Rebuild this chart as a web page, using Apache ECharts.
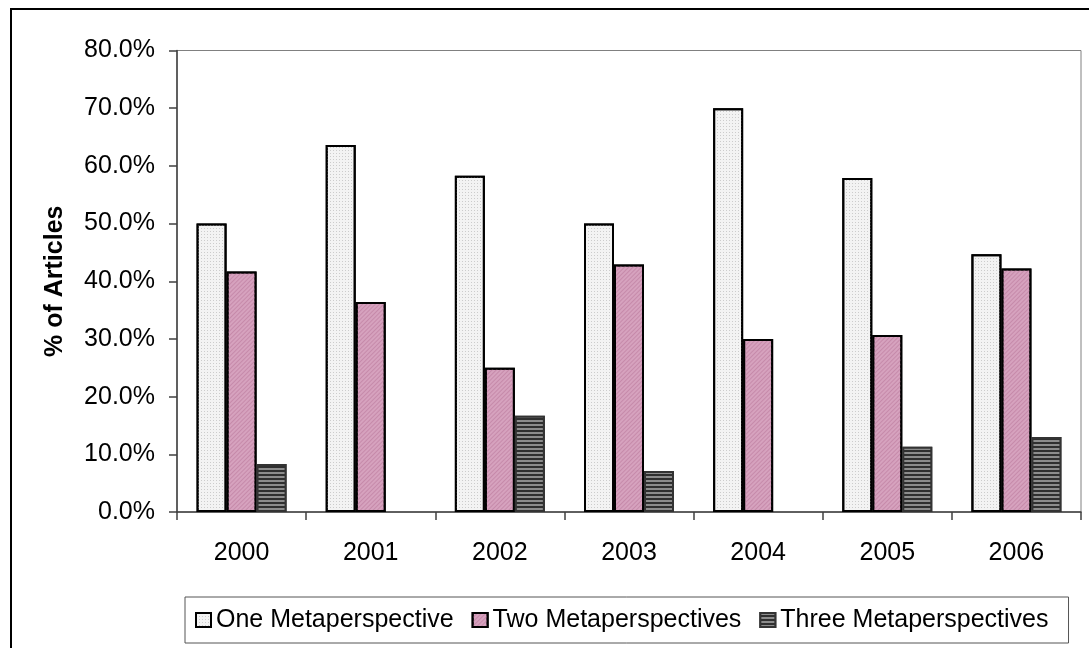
<!DOCTYPE html>
<html>
<head>
<meta charset="utf-8">
<script src="https://cdn.jsdelivr.net/npm/echarts@6/dist/echarts.min.js"></script>
<style>
  html, body { margin: 0; padding: 0; background: #fff; }
  #chart { width: 1089px; height: 648px; }
</style>
</head>
<body>
<div id="chart"></div>
<script>
// Share of articles by number of metaperspectives, per year (percent)
const years = ['2000', '2001', '2002', '2003', '2004', '2005', '2006'];
const oneMeta   = [50.0, 63.6, 58.3, 50.0, 70.0, 57.9, 44.7];
const twoMeta   = [41.7, 36.4, 25.0, 42.9, 30.0, 30.7, 42.2];
const threeMeta = [8.3, 0, 16.7, 7.1, 0, 11.3, 13.0];
const seriesNames = ['One Metaperspective', 'Two Metaperspectives', 'Three Metaperspectives'];

const FONT = '"Liberation Sans", Arial, sans-serif';

const chart = echarts.init(document.getElementById('chart'), null, { renderer: 'canvas' });

const barBase = { type: 'bar', barWidth: 30, barGap: '0%' };

// zero-height bars get no outline so they leave no mark on the axis
const withZeroBars = arr => arr.map(v => (v === 0 ? { value: v, itemStyle: { borderWidth: 0 } } : v));

chart.setOption({
  animation: false,
  backgroundColor: '#fff',
  textStyle: { fontFamily: FONT },
  graphic: [{
    type: 'rect',
    shape: { x: 11, y: 9, width: 1200, height: 800 },
    style: { fill: 'none', stroke: '#000', lineWidth: 2 },
    silent: true
  }],
  grid: {
    left: 177, right: 8, top: 50.5, bottom: 136,
    show: true, borderColor: '#808080', borderWidth: 1
  },
  legend: {
    left: 185, top: 597,
    padding: [9, 20, 9, 10],
    itemGap: 18,
    icon: 'rect',
    itemWidth: 15, itemHeight: 14,
    borderColor: '#555', borderWidth: 1,
    textStyle: { fontSize: 25, color: '#000', fontFamily: FONT, lineHeight: 28 },
    data: seriesNames
  },
  xAxis: {
    type: 'category',
    data: years,
    axisLine: { lineStyle: { color: '#404040', width: 1.5 } },
    axisTick: { show: true, length: 8, lineStyle: { color: '#404040', width: 1.5 } },
    axisLabel: { fontSize: 25, color: '#000', margin: 29, fontFamily: FONT },
    splitLine: { show: false }
  },
  yAxis: {
    type: 'value',
    min: 0, max: 80, interval: 10,
    name: '% of Articles',
    nameLocation: 'middle',
    nameRotate: 90,
    nameGap: 109,
    nameTextStyle: { fontSize: 25, fontWeight: 'bold', color: '#000', fontFamily: FONT },
    axisLine: { show: true, lineStyle: { color: '#404040', width: 1.5 } },
    axisTick: { show: true, length: 8, lineStyle: { color: '#404040', width: 1.5 } },
    axisLabel: {
      fontSize: 25, color: '#000', margin: 22, fontFamily: FONT,
      formatter: v => v.toFixed(1) + '%'
    },
    splitLine: { show: false }
  },
  series: [
    Object.assign({}, barBase, {
      name: seriesNames[0],
      data: withZeroBars(oneMeta),
      itemStyle: {
        color: '#f3f3f3', borderColor: '#000', borderWidth: 2,
        decal: { symbol: 'rect', symbolSize: 1, dashArrayX: [1, 2], dashArrayY: [1, 2], color: '#cccccc' }
      }
    }),
    Object.assign({}, barBase, {
      name: seriesNames[1],
      data: withZeroBars(twoMeta),
      itemStyle: {
        color: '#d6a2be', borderColor: '#000', borderWidth: 2,
        decal: { symbol: 'rect', symbolSize: 1, dashArrayX: [1, 0], dashArrayY: [1, 2], rotation: -Math.PI / 4, color: '#c68aaa' }
      }
    }),
    Object.assign({}, barBase, {
      name: seriesNames[2],
      data: withZeroBars(threeMeta),
      itemStyle: {
        color: '#2f2f2f', borderColor: '#333', borderWidth: 2,
        decal: { symbol: 'rect', symbolSize: 1, dashArrayX: [1, 0], dashArrayY: [2, 2], color: '#8c8c8c' }
      }
    })
  ]
});
</script>
</body>
</html>
